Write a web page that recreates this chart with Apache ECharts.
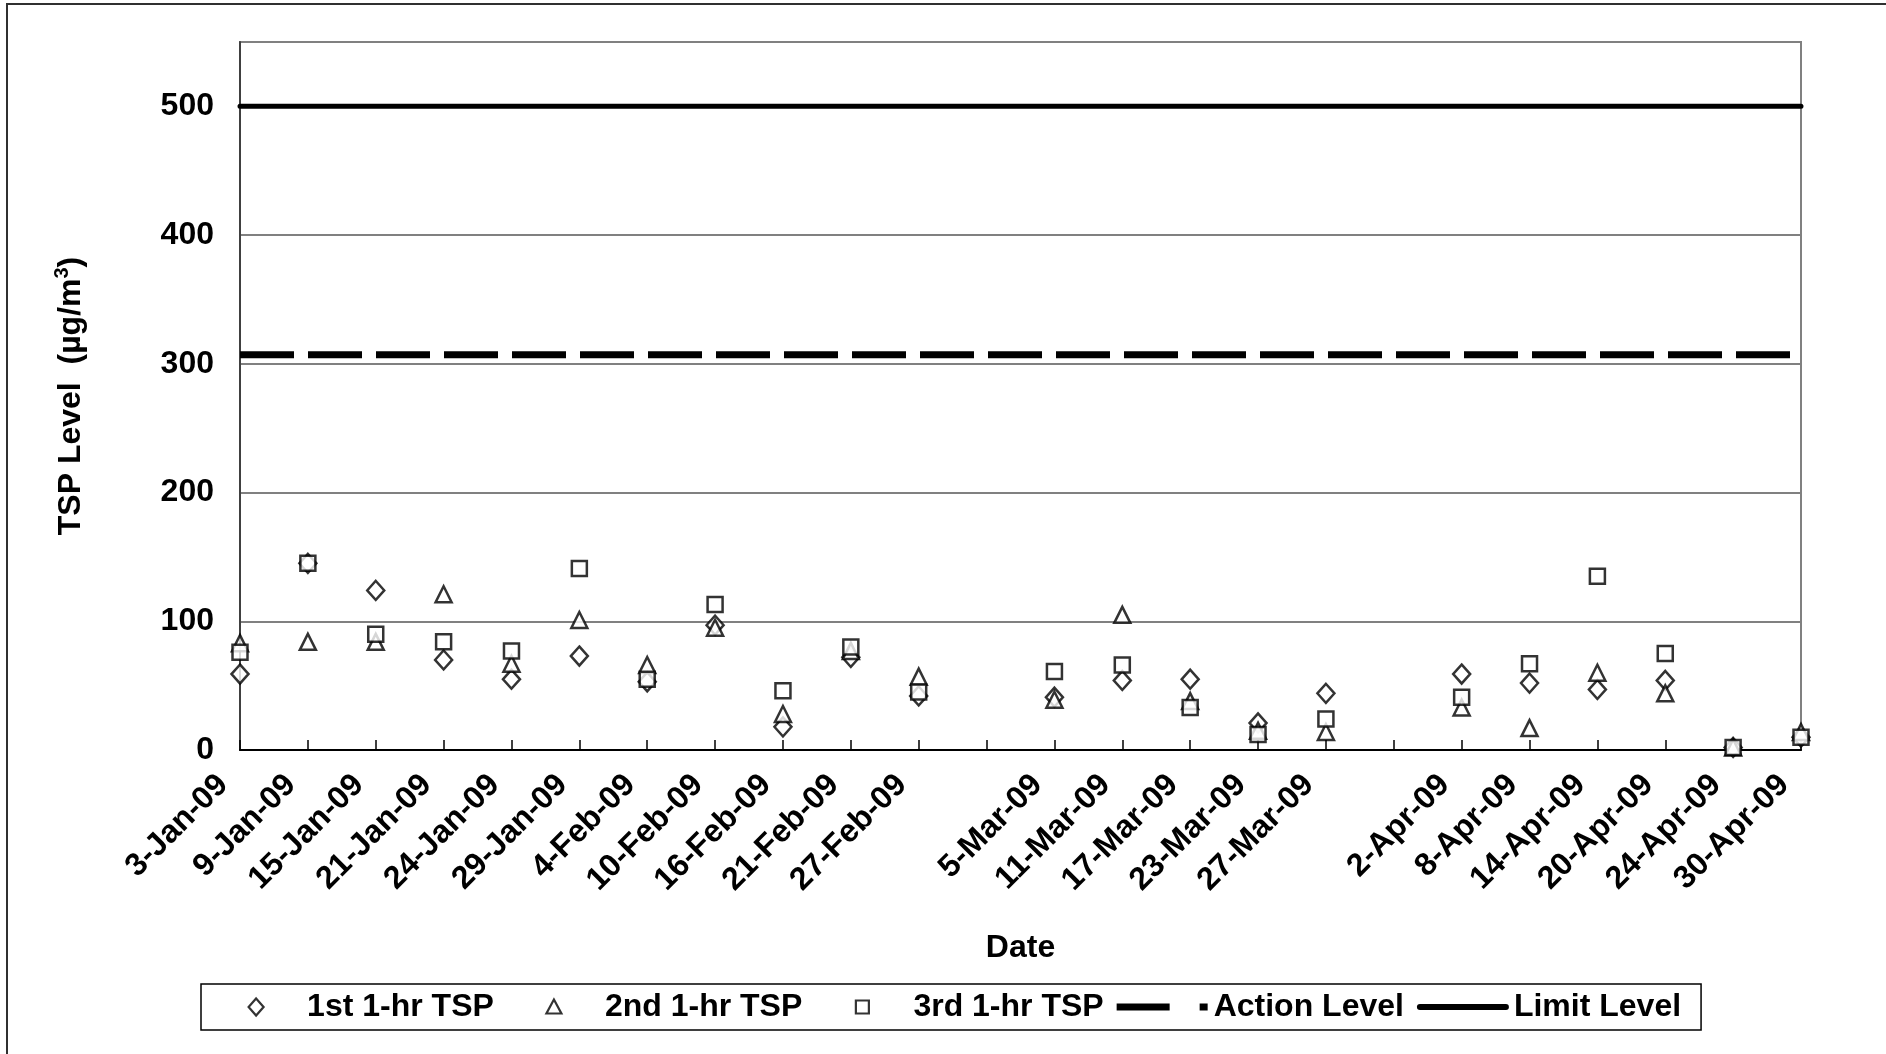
<!DOCTYPE html>
<html>
<head>
<meta charset="utf-8">
<script src="https://cdn.jsdelivr.net/npm/echarts@6/dist/echarts.min.js"></script>
<style>
  html, body { margin: 0; padding: 0; background: #fff; }
  #chart { width: 1886px; height: 1054px; }
</style>
</head>
<body>
<div id="chart"></div>
<script>
// Sampling dates (blank entries are weeks with no sampling)
const dates = ['3-Jan-09','9-Jan-09','15-Jan-09','21-Jan-09','24-Jan-09','29-Jan-09','4-Feb-09',
  '10-Feb-09','16-Feb-09','21-Feb-09','27-Feb-09','','5-Mar-09','11-Mar-09','17-Mar-09','23-Mar-09',
  '27-Mar-09',' ','2-Apr-09','8-Apr-09','14-Apr-09','20-Apr-09','24-Apr-09','30-Apr-09'];

// 1-hr TSP results (µg/m3)
const tsp1 = [59,145,124,70,55,73,53,97,18,72,42,'-',41,54,55,21,44,'-',59,52,47,54,2,10];
const tsp2 = [83,84,84,121,67,101,66,95,28,77,57,'-',39,105,38,15,14,'-',33,17,60,44,2,14];
const tsp3 = [76,145,90,84,77,141,55,113,46,80,45,'-',61,66,33,12,24,'-',41,67,135,75,2,10];

// Compliance levels (µg/m3)
const actionLevel = 307;
const limitLevel = 500;

const yTicks = { min: 0, max: 550, interval: 100 };

const FONT = '"Liberation Sans", Arial, sans-serif';
const FS = 32;

const levelLine = v => dates.map(() => v);

const markerStyle = { color: '#ffffff', borderColor: '#000000', borderWidth: 2.5 };

// Legend glyphs, drawn in a 92x19 frame (the leading moves span the frame
// so every glyph sits centred in the legend item box)
const FRAME = 'M0,0 M92,19 ';
const ICON_DIAMOND = 'path://' + FRAME + 'M46,1 L53.5,9.5 L46,18 L38.5,9.5 Z';
const ICON_TRIANGLE = 'path://' + FRAME + 'M46,2 L53.5,16 L38.5,16 Z';
const ICON_SQUARE = 'path://' + FRAME + 'M39.5,3 H52.5 V16 H39.5 Z';
const ICON_ACTION = 'path://' + FRAME + 'M0,6 H53 V13 H0 Z M83,6 H91 V13 H83 Z';
const ICON_LIMIT = 'path://' + FRAME + 'M3,6.5 H89 A3,3 0 0 1 89,12.5 H3 A3,3 0 0 1 3,6.5 Z';

const chart = echarts.init(document.getElementById('chart'), null, { renderer: 'canvas' });

chart.setOption({
  animation: false,
  backgroundColor: '#ffffff',
  textStyle: { fontFamily: FONT, color: '#000' },
  graphic: [{
    type: 'rect',
    shape: { x: 7, y: 4, width: 1900, height: 1080 },
    style: { fill: 'none', stroke: '#303030', lineWidth: 2 },
    silent: true, z: -10
  }],
  grid: {
    left: 240, right: 85, top: 42, bottom: 304,
    show: true, borderColor: '#808080', borderWidth: 2, backgroundColor: 'transparent'
  },
  legend: {
    left: 201, top: 984,
    orient: 'horizontal',
    backgroundColor: '#fff',
    borderColor: '#000', borderWidth: 1.5, borderRadius: 0,
    padding: [7, 20, 7, 8],
    itemWidth: 92, itemHeight: 19, itemGap: 13,
    symbolKeepAspect: true,
    itemStyle: { borderWidth: 2.2 },
    textStyle: { fontFamily: FONT, fontSize: FS, fontWeight: 'bold', color: '#000' },
    data: [
      { name: '1st 1-hr TSP', icon: ICON_DIAMOND },
      { name: '2nd 1-hr TSP', icon: ICON_TRIANGLE },
      { name: '3rd 1-hr TSP', icon: ICON_SQUARE },
      { name: 'Action Level', icon: ICON_ACTION, itemStyle: { borderWidth: 0 } },
      { name: 'Limit Level', icon: ICON_LIMIT, itemStyle: { borderWidth: 0 } }
    ]
  },
  xAxis: {
    type: 'category',
    data: dates,
    boundaryGap: false,
    name: 'Date',
    nameLocation: 'middle',
    nameGap: 182,
    nameTextStyle: { fontFamily: FONT, fontSize: FS, fontWeight: 'bold', color: '#000' },
    axisLine: { lineStyle: { color: '#000', width: 2 } },
    axisTick: { inside: true, length: 10, interval: 0, lineStyle: { color: '#000', width: 1.5 } },
    axisLabel: {
      interval: 0, rotate: 45, margin: 13, padding: [0, 24, 0, 0],
      fontFamily: FONT, fontSize: FS, fontWeight: 'bold', color: '#000'
    },
    splitLine: { show: false }
  },
  yAxis: {
    type: 'value',
    min: yTicks.min, max: yTicks.max, interval: yTicks.interval,
    name: '{a|TSP Level  (µg/m}{s|3}{a|)}',
    nameLocation: 'middle',
    nameRotate: 90,
    nameGap: 150,
    nameTextStyle: {
      fontFamily: FONT, fontSize: FS, fontWeight: 'bold', color: '#000',
      rich: {
        a: { fontFamily: FONT, fontSize: FS, fontWeight: 'bold', color: '#000', lineHeight: 38 },
        s: { fontFamily: FONT, fontSize: 20, fontWeight: 'bold', color: '#000', verticalAlign: 'top', lineHeight: 26 }
      }
    },
    axisLine: { show: true, lineStyle: { color: '#404040', width: 2 } },
    axisTick: { show: false },
    axisLabel: {
      margin: 26,
      fontFamily: FONT, fontSize: FS, fontWeight: 'bold', color: '#000',
      formatter: v => (v > 500 ? '' : String(v))
    },
    splitLine: { show: true, lineStyle: { color: '#808080', width: 2 } }
  },
  series: [
    {
      name: 'Limit Level', type: 'line', data: levelLine(limitLevel),
      showSymbol: false, symbol: 'none', silent: true, z: 1,
      color: '#000',
      lineStyle: { color: '#000', width: 5, cap: 'round' }
    },
    {
      name: 'Action Level', type: 'line', data: levelLine(actionLevel),
      showSymbol: false, symbol: 'none', silent: true, z: 1,
      color: '#000',
      lineStyle: { color: '#000', width: 7, type: [54, 14], cap: 'butt' }
    },
    {
      name: '1st 1-hr TSP', type: 'scatter', data: tsp1, z: 3,
      symbol: 'diamond', symbolSize: [17, 19], itemStyle: markerStyle
    },
    {
      name: '2nd 1-hr TSP', type: 'scatter', data: tsp2, z: 4,
      symbol: 'triangle', symbolSize: [16, 16], itemStyle: markerStyle
    },
    {
      name: '3rd 1-hr TSP', type: 'scatter', data: tsp3, z: 5,
      symbol: 'rect', symbolSize: [15, 15], itemStyle: markerStyle
    }
  ]
});
</script>
</body>
</html>
